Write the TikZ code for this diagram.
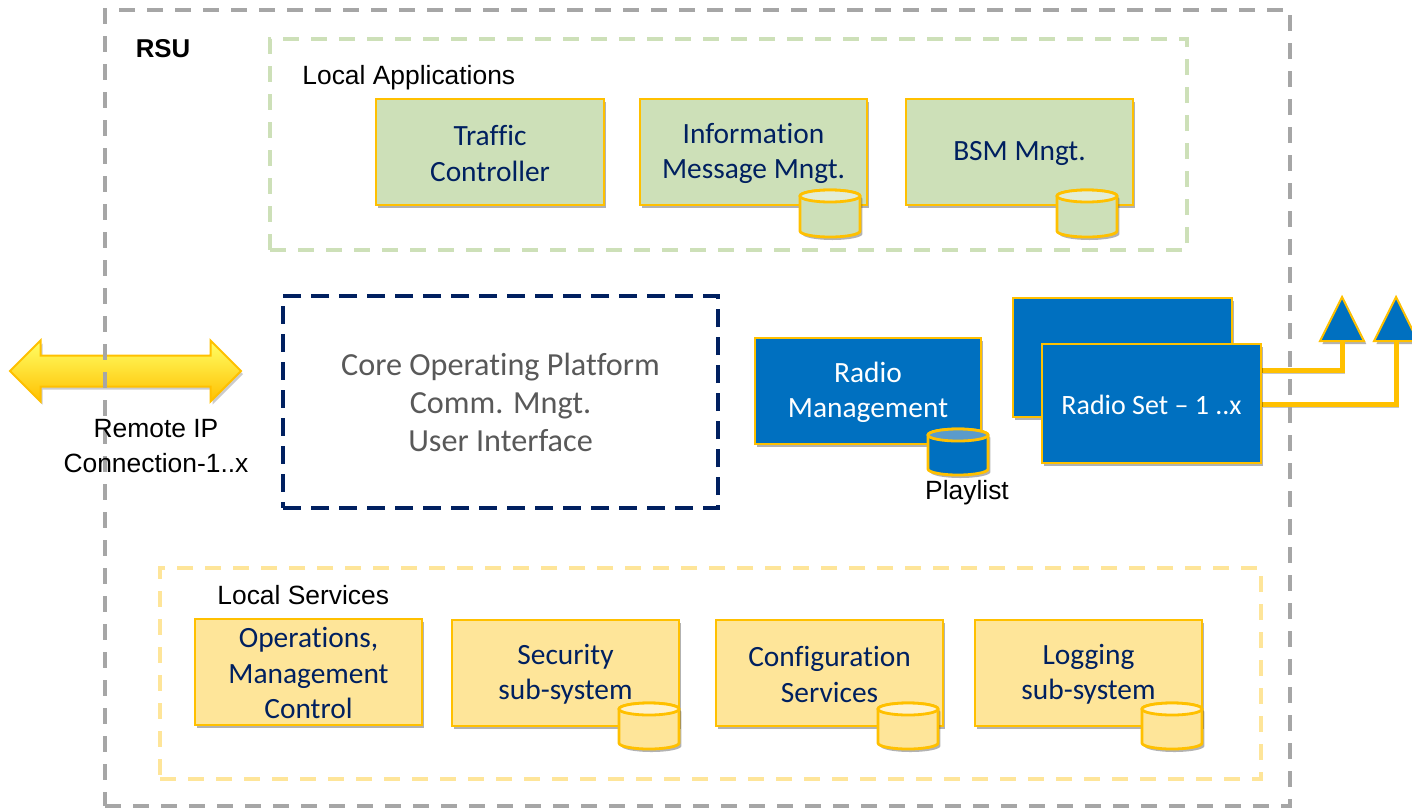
\documentclass[tikz,border=0pt]{standalone}
\usepackage{fontspec}
\setmainfont[Ligatures=NoCommon]{Carlito}
\newfontfamily\arialf{Liberation Sans}
\usetikzlibrary{shapes.geometric,shapes.arrows,shadows,calc}
\definecolor{gold}{HTML}{FFC000}
\definecolor{navyt}{HTML}{002060}
\definecolor{greenf}{HTML}{CDE0B8}
\definecolor{greent}{HTML}{E2EDD6}
\definecolor{yellowf}{HTML}{FEE599}
\definecolor{yellowt}{HTML}{FFF2CC}
\definecolor{bluef}{HTML}{0070C0}
\definecolor{bluet}{HTML}{5B9BCB}
\definecolor{rsugray}{HTML}{A6A6A6}
\definecolor{coregray}{HTML}{595959}
\tikzset{
  softshadow/.style={drop shadow={shadow xshift=1.2pt,shadow yshift=-1.5pt,opacity=.3,fill=black}},
  basebox/.style={rectangle,draw=gold,line width=1.4pt,inner sep=0pt,outer sep=0pt,align=center,
    font=\fontsize{14.7}{17.8}\selectfont,softshadow},
  greenbox/.style={basebox,fill=greenf,text=navyt},
  yellowbox/.style={basebox,fill=yellowf,text=navyt},
  bluebox/.style={basebox,fill=bluef,text=white},
  cylbody/.style={draw=gold,line width=1.4pt,softshadow},
  cylcap/.style={draw=gold,line width=1.4pt},
  region/.style={rectangle,line width=2pt,dash pattern=on 8pt off 6pt,inner sep=0pt,outer sep=0pt},
  corebox/.style={rectangle,draw=navyt,line width=2pt,dash pattern=on 9pt off 5pt,inner sep=0pt,outer sep=0pt,
    align=center,text=coregray,font=\fontsize{16.1}{18.9}\selectfont},
  lbl/.style={inner sep=0pt,font=\arialf\fontsize{13.2}{17.5}\selectfont,text=black,align=center},
  lead/.style={draw=gold,line width=2.5pt,line join=miter,
    preaction={draw=black!22,transform canvas={shift={(1pt,-1.5pt)}}}},
  antenna/.style={isosceles triangle,isosceles triangle apex angle=53,shape border rotate=90,draw=gold,line width=1pt,
    fill=bluef,inner sep=0pt,outer sep=0pt,minimum height=22pt,softshadow,anchor=lower side},
}
% name, x0, y0, x1, y1, style, text (pixel coordinates of the reference)
\newcommand{\pxbox}[7]{%
  \pgfmathsetmacro{\cxx}{(#2+#4)/2}\pgfmathsetmacro{\cyy}{(#3+#5)/2}%
  \pgfmathsetmacro{\wdd}{(#4-#2)/2}\pgfmathsetmacro{\htt}{(#5-#3)/2}%
  \node[#6,minimum width=\wdd pt,minimum height=\htt pt] (#1) at (\cxx,\cyy) {\rule{0pt}{11.4pt}#7};}
% name, x0, ytop, x1, ybottom, body colour, cap colour
\newcommand{\pxcyl}[7]{%
  \pgfmathsetmacro{\rxx}{(#4-#2)/4}\pgfmathsetmacro{\cxx}{(#2+#4)/2}\pgfmathsetmacro{\cyy}{(#3+#5)/2}%
  \pgfmathsetmacro{\ytt}{#3+6}\pgfmathsetmacro{\ybb}{#5-6}%
  \coordinate (#1) at (\cxx,\cyy);
  \path[cylbody,fill=#6] (#2,\ytt) -- (#2,\ybb)
     arc[start angle=180,end angle=360,x radius=\rxx pt,y radius=3pt] -- (#4,\ytt)
     arc[start angle=0,end angle=180,x radius=\rxx pt,y radius=3pt] -- cycle;
  \path[cylcap,fill=#7] (\cxx,\ytt) ellipse[x radius=\rxx pt,y radius=3pt];}
\begin{document}
\begin{tikzpicture}[x=0.5pt,y=-0.5pt]
\useasboundingbox (0,0) rectangle (1412,809);
\clip (0,0) rectangle (1412,809);
% remote arrow (under the RSU outline)
\node[double arrow,double arrow tip angle=90,double arrow head extend=7.5pt,minimum height=115.5pt,
  inner sep=0pt,draw=gold,line width=1pt,top color=yellow!60!white,bottom color=gold,
  drop shadow={shadow xshift=1pt,shadow yshift=-1.5pt,opacity=.2,fill=black}] (remote) at (125.5,371) {\rule[-7.25pt]{0pt}{14.5pt}};
% antennas and leads
\node[antenna] (ant1) at (1342,341) {};
\node[antenna] (ant2) at (1396,341) {};
\coordinate (out1) at (1261,370);
\coordinate (out2) at (1261,404);
\draw[lead] (out1) -| (ant1.lower side);
\draw[lead] (out2) -| (ant2.lower side);
% RSU outline
\pxbox{rsu}{105}{10}{1290}{806}{region,draw=rsugray}{}
% local applications
\pxbox{apps}{270}{39}{1187}{250}{region,draw=greenf}{}
\pxbox{traffic}{376}{99}{604}{205}{greenbox}{Traffic\\Controller}
\pxbox{info}{640}{99}{867}{205}{greenbox}{Information\\Message Mngt.}
\pxbox{bsm}{906}{99}{1133}{205}{greenbox}{BSM Mngt.}
\pxcyl{infodb}{800}{190}{860}{237}{greenf}{greent}
\pxcyl{bsmdb}{1057}{190}{1117}{237}{greenf}{greent}
% core
\pxbox{core}{283}{296}{718}{508}{corebox}{Core Operating Platform\\Comm. Mngt.\\User Interface}
% radio
\pxbox{radiomgmt}{755}{338}{981}{444}{bluebox}{Radio\\Management}
\pxcyl{playdb}{928}{429}{988}{475}{bluef}{bluet}
\pxbox{radioback}{1013}{298}{1232}{417}{bluebox}{}
\pxbox{radiofront}{1042}{344}{1261}{463}{bluebox,font=\fontsize{14}{16}\selectfont}{Radio Set – 1 ..x}
% local services
\pxbox{services}{160}{568}{1261}{779}{region,draw=yellowf}{}
\pxbox{ops}{195}{619}{422}{725}{yellowbox}{Operations,\\Management\\Control}
\pxbox{security}{452}{620}{679}{726}{yellowbox}{Security\\sub-system}
\pxbox{config}{716}{620}{943}{726}{yellowbox}{Configuration\\Services}
\pxbox{logging}{975}{620}{1202}{726}{yellowbox}{Logging\\sub-system}
\pxcyl{secdb}{619}{703}{679}{749}{yellowf}{yellowt}
\pxcyl{confdb}{878}{703}{938}{749}{yellowf}{yellowt}
\pxcyl{logdb}{1142}{703}{1202}{749}{yellowf}{yellowt}
% labels
\node[lbl,font=\arialf\bfseries\fontsize{12.9}{14}\selectfont] (rsulabel) at (163,49) {RSU};
\node[lbl,anchor=west] (appslabel) at (302,78) {Local Applications};
\node[lbl,anchor=west] (svclabel) at (217,595) {Local Services};
\node[lbl] (remotelabel) at (156,446) {Remote IP\\Connection-1..x};
\node[lbl] (playlabel) at (967,493) {Playlist};
\end{tikzpicture}
\end{document}
